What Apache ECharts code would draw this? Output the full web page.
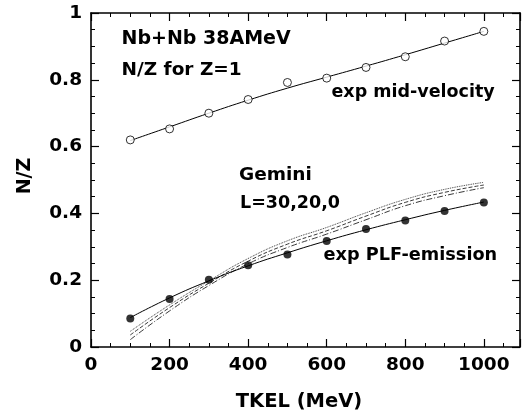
<!DOCTYPE html>
<html>
<head>
<meta charset="utf-8">
<script src="https://cdn.jsdelivr.net/npm/echarts@6/dist/echarts.min.js"></script>
<style>
html,body{margin:0;padding:0;background:#fff;}
#c{width:527px;height:417px;}
</style>
</head>
<body>
<div id="c"></div>
<script>
// ---- data ----
var tkel = [100, 200, 300, 400, 500, 600, 700, 800, 900, 1000];
var midVel = [0.620, 0.653, 0.700, 0.741, 0.792, 0.805, 0.837, 0.869, 0.916, 0.945];
var midFit = [0.618, 0.659, 0.700, 0.739, 0.775, 0.808, 0.841, 0.875, 0.910, 0.945];
var plf = [0.085, 0.144, 0.201, 0.245, 0.277, 0.317, 0.353, 0.379, 0.407, 0.433];
var plfFit = [0.088, 0.147, 0.198, 0.243, 0.282, 0.318, 0.351, 0.381, 0.409, 0.434];
var gemA = [0.047, 0.126, 0.198, 0.265, 0.318, 0.358, 0.402, 0.442, 0.472, 0.493];
var gemB = [0.036, 0.118, 0.191, 0.257, 0.308, 0.348, 0.392, 0.433, 0.463, 0.485];
var gemC = [0.022, 0.108, 0.184, 0.249, 0.298, 0.338, 0.381, 0.423, 0.453, 0.477];

function pairs(ys) { return tkel.map(function (x, i) { return [x, ys[i]]; }); }

var FONT = '"DejaVu Sans", sans-serif';
var chart = echarts.init(document.getElementById('c'), null, {renderer: 'canvas'});

function axisBase(pos, showLabel, isX) {
  return {
    type: 'value',
    position: pos,
    min: 0,
    max: isX ? 1092 : 1,
    interval: isX ? 200 : 0.2,
    axisLine: {show: true, onZero: false, lineStyle: {color: '#000', width: 1.6}},
    axisTick: {show: true, inside: true, length: 8, lineStyle: {color: '#000', width: 1.2}},
    minorTick: {show: true, splitNumber: 4, length: 4, lineStyle: {color: '#000', width: 1}},
    splitLine: {show: false},
    minorSplitLine: {show: false},
    axisLabel: {
      show: showLabel,
      color: '#000',
      fontFamily: FONT,
      fontWeight: 'bold',
      fontSize: 18.5,
      margin: 9,
      showMaxLabel: isX ? false : true,
      formatter: function (v) { return String(Math.round(v * 100) / 100); }
    }
  };
}

function label(txt, x, y, size, align, rot) {
  return {
    type: 'text', x: x, y: y, rotation: rot || 0,
    style: {text: txt, font: 'bold ' + size + 'px ' + FONT, fill: '#000',
            align: align || 'left', verticalAlign: 'middle'}
  };
}

var lineStyleBase = {color: '#000', width: 1};

var option = {
  backgroundColor: '#fff',
  animation: false,
  grid: {left: 91, right: 7, top: 13, bottom: 70, containLabel: false},
  xAxis: [axisBase('bottom', true, true), axisBase('top', false, true)],
  yAxis: [axisBase('left', true, false), axisBase('right', false, false)],
  series: [
    {type: 'line', name: 'Gemini L=30', data: pairs(gemA), smooth: true, showSymbol: false, symbol: 'none',
     lineStyle: {color: '#222', width: 0.9, type: 'dotted'}, z: 2},
    {type: 'line', name: 'Gemini L=20', data: pairs(gemB), smooth: true, showSymbol: false, symbol: 'none',
     lineStyle: {color: '#222', width: 0.9, type: [4, 2]}, z: 2},
    {type: 'line', name: 'Gemini L=0', data: pairs(gemC), smooth: true, showSymbol: false, symbol: 'none',
     lineStyle: {color: '#222', width: 0.9, type: [6, 2, 1, 2]}, z: 2},
    {type: 'line', name: 'mid fit', data: pairs(midFit), smooth: true, showSymbol: false, symbol: 'none',
     lineStyle: lineStyleBase, z: 3},
    {type: 'line', name: 'plf fit', data: pairs(plfFit), smooth: true, showSymbol: false, symbol: 'none',
     lineStyle: lineStyleBase, z: 3},
    {type: 'scatter', name: 'exp mid-velocity', data: pairs(midVel), symbol: 'circle', symbolSize: 8,
     itemStyle: {color: '#fff', borderColor: '#000', borderWidth: 1}, z: 4},
    {type: 'scatter', name: 'exp PLF-emission', data: pairs(plf), symbol: 'circle', symbolSize: 8,
     itemStyle: {color: '#000'}, z: 4}
  ],
  graphic: [
    label('Nb+Nb 38AMeV', 121.5, 38.7, 19),
    label('N/Z for Z=1', 121.5, 70, 18.5),
    label('exp mid-velocity', 331.5, 92.5, 17.5),
    label('Gemini', 239, 175, 18.5),
    label('L=30,20,0', 240, 203, 17.5),
    label('exp PLF-emission', 323.5, 255.5, 17.7),
    label('TKEL (MeV)', 299, 402, 19.5, 'center'),
    label('N/Z', 25.5, 176, 19, 'center', Math.PI / 2)
  ]
};
chart.setOption(option);
</script>
</body>
</html>
